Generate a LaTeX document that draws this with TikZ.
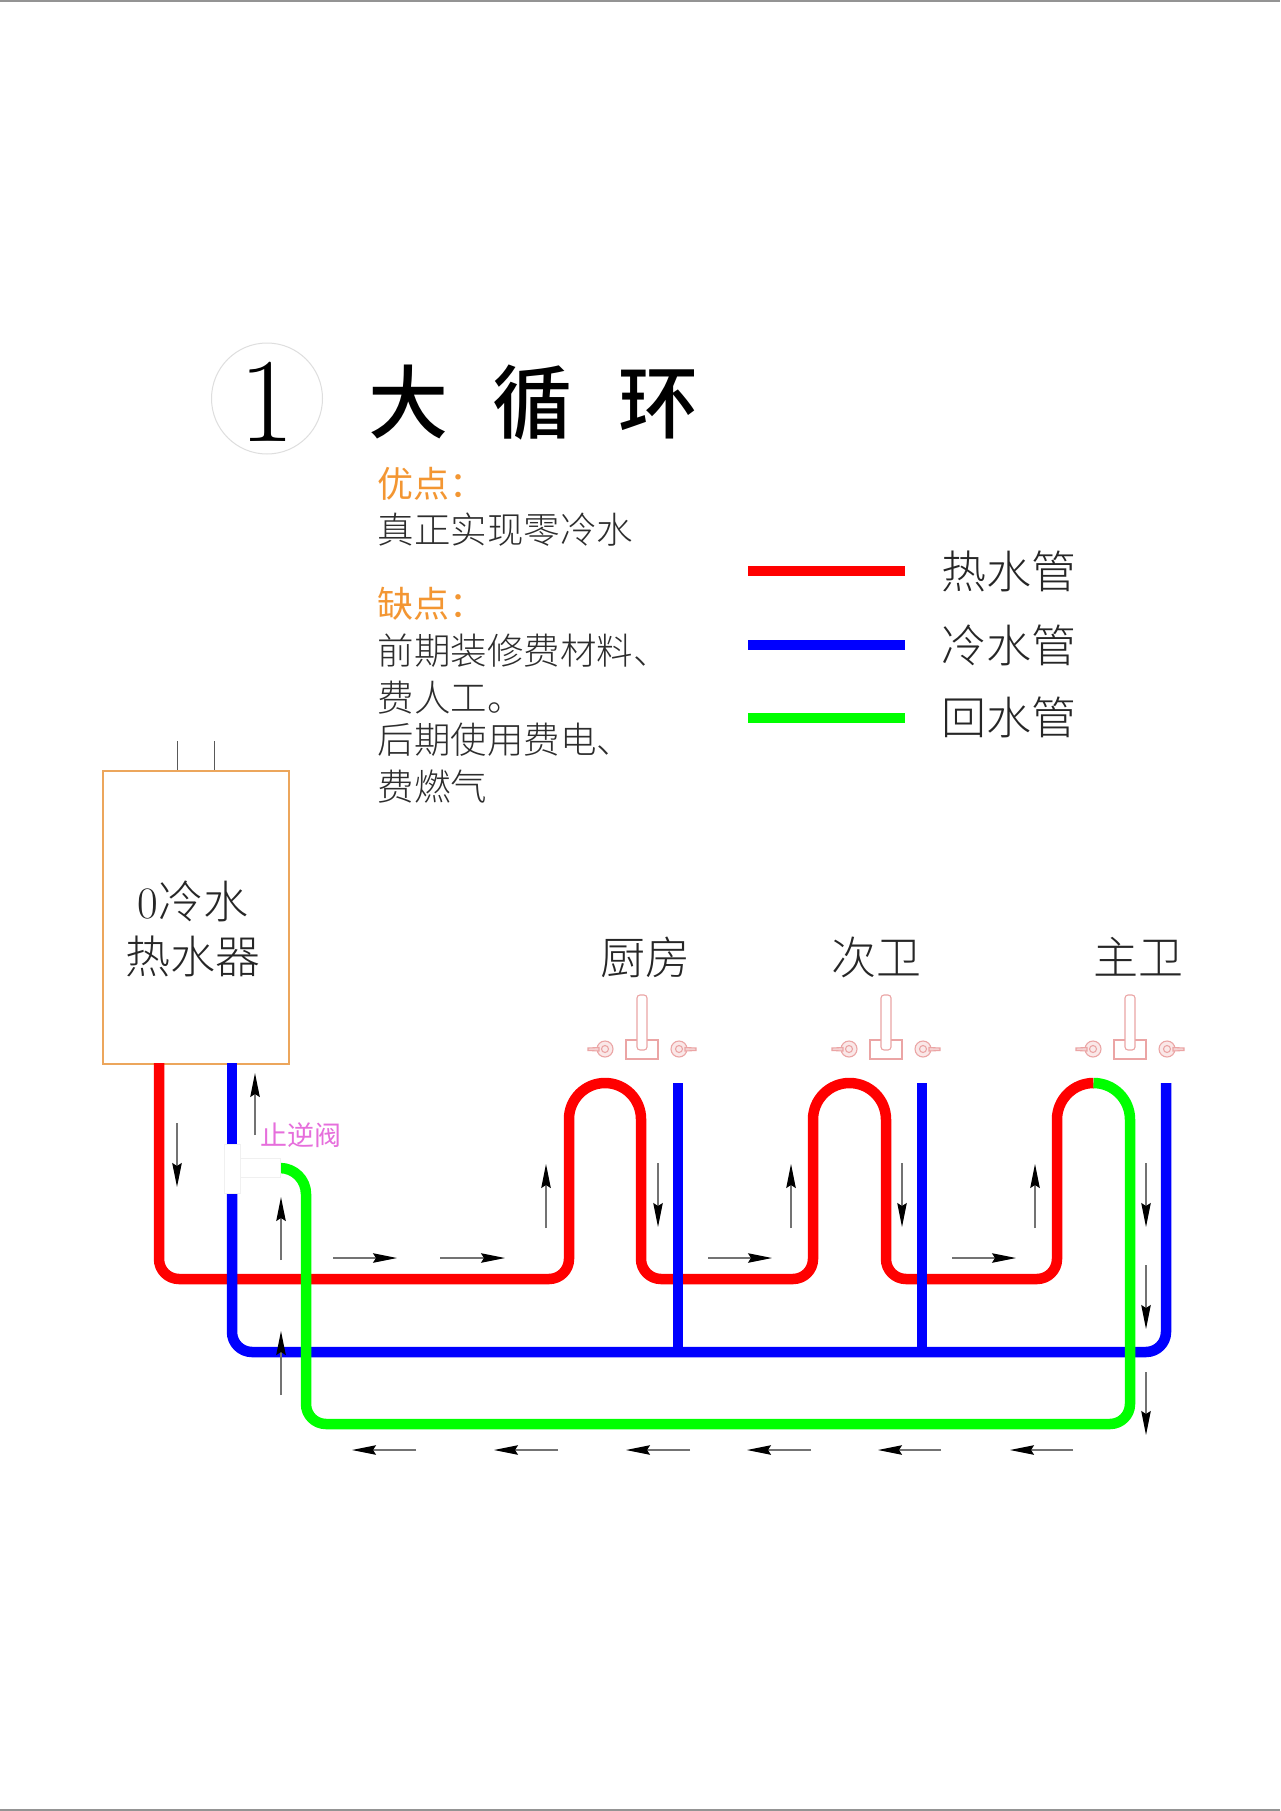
\documentclass[tikz,border=0pt]{standalone}
\usepackage{fontspec}
\usetikzlibrary{arrows.meta}
\newfontfamily\cjk{Noto Sans CJK SC}
\newfontfamily\cjkm{Noto Sans CJK SC Medium}
\newfontfamily\cjkl{Noto Sans CJK SC Light}
\definecolor{pipered}{RGB}{255,0,0}
\definecolor{pipeblue}{RGB}{0,0,255}
\definecolor{pipegreen}{RGB}{0,255,0}
\definecolor{boxorange}{RGB}{236,166,92}
\definecolor{textorange}{RGB}{243,150,50}
\definecolor{fauc}{RGB}{235,165,165}
\definecolor{valvetext}{RGB}{230,110,220}
\definecolor{bodytext}{RGB}{45,45,45}
\newcommand{\fsz}[1]{\fontsize{#1pt}{#1pt}\selectfont}
\tikzset{
  redpipe/.style={draw=pipered,line width=10.5pt,line join=round},
  bluepipe/.style={draw=pipeblue,line width=10.5pt,line join=round},
  greenpipe/.style={draw=pipegreen,line width=10.5pt,line join=round},
  flowarrow/.style={draw=black!55,line width=1.2pt,-{Stealth[black,inset=3pt,length=24pt,width=9.5pt]}},
  faucet/.style={draw=fauc,line width=1.1pt},
  bodyline/.style={anchor=west,inner sep=0pt,text=bodytext,font=\cjkl\fsz{36.5}},
  headline/.style={anchor=west,inner sep=0pt,text=textorange,font=\cjk\fsz{36}},
  bigtext/.style={inner sep=0pt,text=black!85,font=\cjkl\fsz{45}},
  legendtext/.style={anchor=west,inner sep=0pt,text=black!85,font=\cjkl\fsz{45}},
}
\begin{document}
\begin{tikzpicture}[x=1pt,y=-1pt]
\useasboundingbox (0,0) rectangle (1280,1811);
\fill[white] (0,0) rectangle (1280,1811);
% page edges
\fill[black!42] (0,0) rectangle (1280,2);
\fill[black!42] (0,1809) rectangle (1280,1811);

% title
\node[circle,draw=black!13,line width=1pt,minimum size=111pt,inner sep=0pt] (numcircle) at (267,398.5) {};
\node[inner sep=0pt,font=\fsz{120}] (num) at (267,402) {1};
\node[inner sep=0pt,font=\cjkm\fsz{80},text=black] (title) at (533,403) {大\hspace{45pt}循\hspace{45pt}环};

% notes
\node[headline] (pro) at (377.5,484) {优点：};
\node[bodyline] (protext) at (377.5,530) {真正实现零冷水};
\node[headline] (con) at (377.5,604) {缺点：};
\node[bodyline] (con1) at (377.5,651) {前期装修费材料、};
\node[bodyline] (con2) at (377.5,698) {费人工。};
\node[bodyline] (con3) at (377.5,740) {后期使用费电、};
\node[bodyline] (con4) at (377.5,787) {费燃气};

% legend
\coordinate (lr1) at (748,571); \coordinate (lr2) at (905,571);
\coordinate (lb1) at (748,645); \coordinate (lb2) at (905,645);
\coordinate (lg1) at (748,718); \coordinate (lg2) at (905,718);
\draw[redpipe] (lr1) -- (lr2);
\draw[bluepipe] (lb1) -- (lb2);
\draw[greenpipe] (lg1) -- (lg2);
\node[legendtext] (lt1) at (941,571) {热水管};
\node[legendtext] (lt2) at (941,645) {冷水管};
\node[legendtext] (lt3) at (941,717) {回水管};

% heater
\node[draw=boxorange,line width=1.8pt,minimum width=186pt,minimum height=293pt,inner sep=0pt,anchor=north west] (heater) at (102,770) {};
\coordinate (h1) at (177,741); \coordinate (h2) at (214,741);
\draw[black!65,line width=.9pt] (h1) -- (h1 |- heater.north);
\draw[black!65,line width=.9pt] (h2) -- (h2 |- heater.north);
\node[bigtext] (hl1) at (193,901) {{\rmfamily 0}冷水};
\node[bigtext] (hl2) at (193,956) {热水器};

% room labels
\node[bigtext] (kitchen) at (645,957) {厨房};
\node[bigtext] (bath2) at (876,957) {次卫};
\node[bigtext] (bath1) at (1138,957) {主卫};

% faucets
\foreach \fx in {642,886,1130}{
  \draw[faucet] (\fx-16,1040) rectangle (\fx+16,1059);
  \draw[faucet,fill=white,rounded corners=3pt] (\fx-5,1050) -- (\fx-5,995) -- (\fx+5,995) -- (\fx+5,1050) -- cycle;
  \draw[faucet,fill=fauc!25] (\fx-37,1049) circle[radius=8pt];
  \draw[faucet] (\fx-37,1049) circle[radius=3.5pt];
  \draw[faucet,fill=fauc!50] (\fx-43,1047.5) -- (\fx-54,1048) -- (\fx-54,1050.5) -- (\fx-43,1051) -- cycle;
  \draw[faucet,fill=fauc!25] (\fx+37,1049) circle[radius=8pt];
  \draw[faucet] (\fx+37,1049) circle[radius=3.5pt];
  \draw[faucet,fill=fauc!50] (\fx+43,1047.5) -- (\fx+54,1048) -- (\fx+54,1050.5) -- (\fx+43,1051) -- cycle;
}

% pipes
\path[redpipe] (159,1063) -- (159,1259) arc[start angle=180,end angle=270,radius=20pt]
  -- (549,1279) arc[start angle=-90,end angle=0,radius=20pt]
  -- (569,1119) arc[start angle=180,end angle=0,radius=36pt]
  -- (641,1259) arc[start angle=180,end angle=270,radius=20pt]
  -- (793,1279) arc[start angle=-90,end angle=0,radius=20pt]
  -- (813,1119.5) arc[start angle=180,end angle=0,radius=36.5pt]
  -- (886,1259) arc[start angle=180,end angle=270,radius=20pt]
  -- (1037,1279) arc[start angle=-90,end angle=0,radius=20pt]
  -- (1057,1119.5) arc[start angle=180,end angle=90,radius=36.5pt];
\path[bluepipe] (232,1063) -- (232,1144);
\path[bluepipe] (232,1193) -- (232,1332) arc[start angle=180,end angle=270,radius=20pt]
  -- (1146,1352) arc[start angle=-90,end angle=0,radius=20pt] -- (1166,1083);
\path[bluepipe] (678,1083) -- (678,1352);
\path[bluepipe] (922,1083) -- (922,1352);
\path[greenpipe] (280,1168) arc[start angle=90,end angle=0,radius=26pt]
  -- (306,1404) arc[start angle=180,end angle=270,radius=20pt]
  -- (1110,1424) arc[start angle=-90,end angle=0,radius=20pt]
  -- (1130,1119.5) arc[start angle=0,end angle=90,radius=36.5pt];

% check valve
\draw[black!6,line width=.8pt,fill=white] (224,1144) rectangle (240,1193);
\draw[black!6,line width=.8pt,fill=white] (240,1158) rectangle (280,1177);
\node[inner sep=0pt,font=\cjk\fsz{27},text=valvetext] (valve) at (301,1135) {止逆阀};

% flow arrows
\foreach \xa/\ya/\xb/\yb in {
  177/1123/177/1187, 255/1135/255/1073, 281/1260/281/1197, 281/1395/281/1331,
  333/1258/397/1258, 440/1258/505/1258, 546/1228/546/1164, 658/1163/658/1227,
  708/1258/772/1258, 791/1228/791/1164, 902/1163/902/1227, 952/1258/1016/1258,
  1035/1228/1035/1164, 1146/1163/1146/1227, 1146/1265/1146/1329, 1146/1372/1146/1435,
  416/1450/352/1450, 558/1450/494/1450, 690/1450/626/1450, 811/1450/747/1450,
  941/1450/878/1450, 1073/1450/1010/1450}{
  \draw[flowarrow] (\xa,\ya) -- (\xb,\yb);
}
\end{tikzpicture}
\end{document}
